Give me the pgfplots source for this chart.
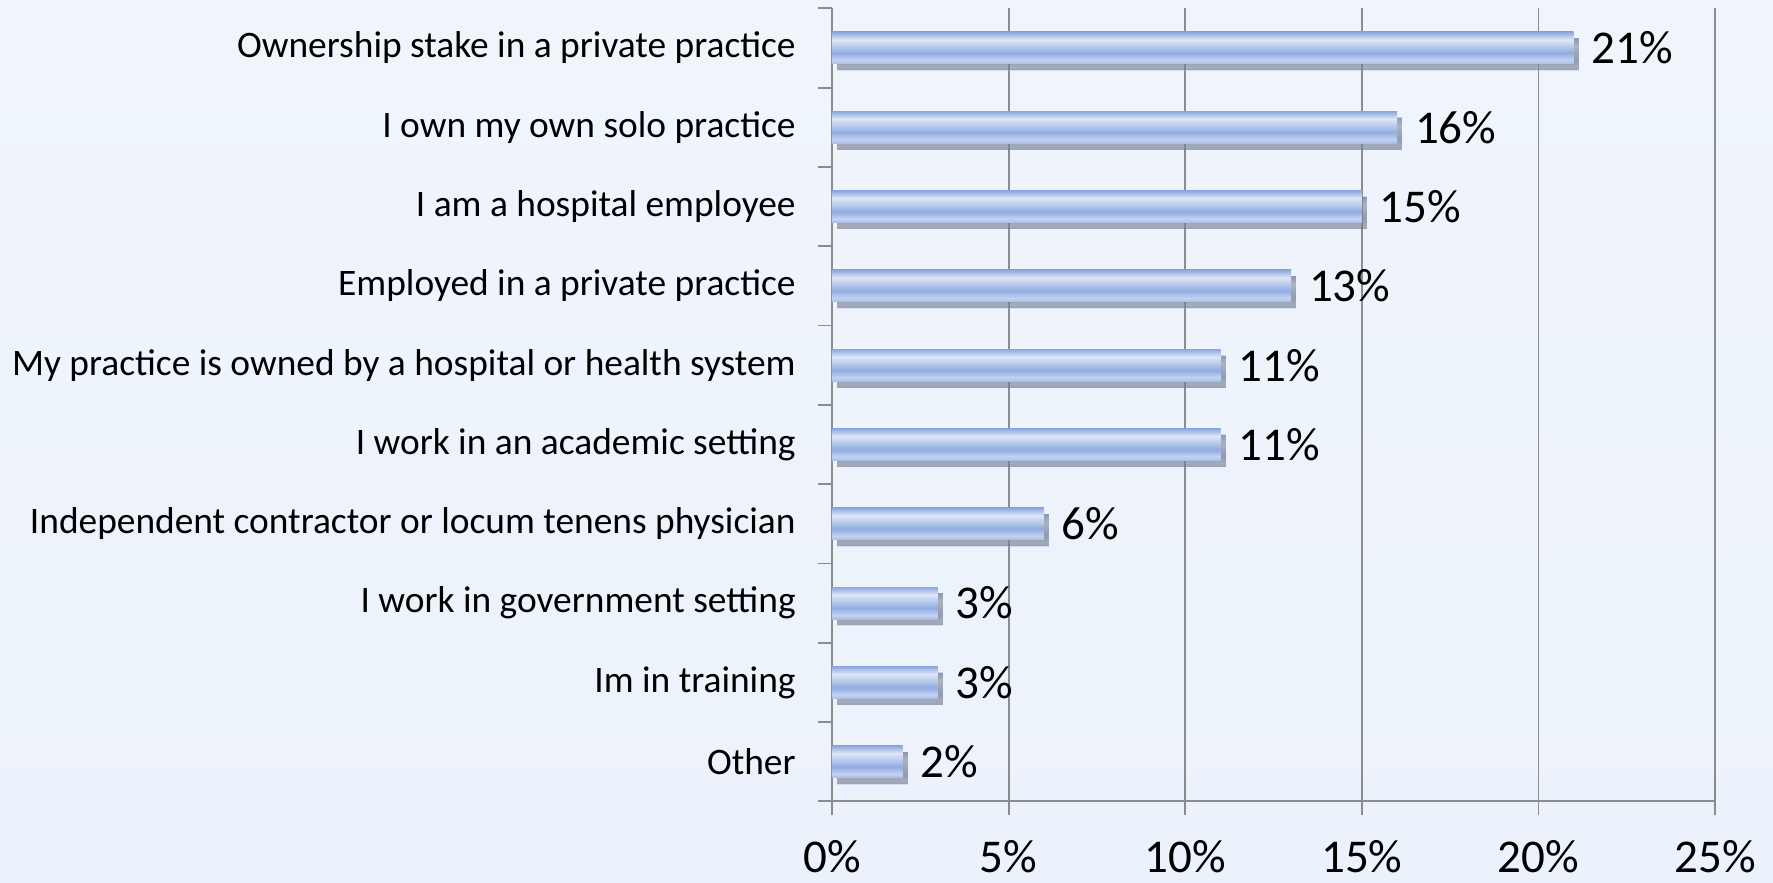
\documentclass[border=0pt]{standalone}
\usepackage{pgfplots}
\pgfplotsset{compat=1.18}
\usepackage{fontspec}
\setmainfont{Carlito}
\usetikzlibrary{shadows}
\definecolor{gridgray}{RGB}{140,140,140}
\definecolor{btop}{RGB}{140,166,222}
\definecolor{blight}{RGB}{222,230,246}
\definecolor{bmid}{RGB}{145,172,226}
\definecolor{blight2}{RGB}{196,210,240}
\definecolor{bbot}{RGB}{168,189,232}
\definecolor{bgtop}{RGB}{240,245,252}
\definecolor{bgbot}{RGB}{236,242,251}
\pgfdeclareverticalshading{barshade}{100bp}{color(0bp)=(bbot); color(25bp)=(bbot); color(31bp)=(blight2); color(42bp)=(bmid); color(63bp)=(blight); color(75bp)=(btop); color(100bp)=(btop)}
\pgfplotsset{mybar/.style={xbar, bar width=8pt, bar shift=0pt, draw=none, shading=barshade,
  drop shadow={shadow xshift=1.25pt, shadow yshift=-1.6pt, fill=black, opacity=0.4}}}
\begin{document}
\begin{tikzpicture}
\path[use as bounding box, top color=bgtop, middle color=white, bottom color=bgbot] (-208pt,-20.33pt) rectangle (235.25pt,200.33pt);
\begin{axis}[
  at={(0,0)}, anchor=south west,
  scale only axis, width=220.75pt, height=198.25pt,
  xmin=0, xmax=25, ymin=-0.5, ymax=9.5,
  axis x line=bottom, axis y line=left,
  axis line style={-, draw=gridgray, line width=0.45pt},
  tick align=outside, major tick length=3.5pt,
  tick style={gridgray, line width=0.45pt},
  /pgf/number format/assume math mode=true,
  xtick={0,5,...,25}, xticklabels={0\%,5\%,10\%,15\%,20\%,25\%},
  xmajorgrids, grid style={gridgray, line width=0.45pt},
  ytick={-0.5,0.5,...,9.5},
  yticklabels={Other, Im in training, I work in government setting, Independent contractor or locum tenens physician, I work in an academic setting, My practice is owned by a hospital or health system, Employed in a private practice, I am a hospital employee, I own my own solo practice, Ownership stake in a private practice\hspace{1.75pt}, {}},
  yticklabel style={yshift=9.9125pt, xshift=-5.4pt, inner sep=0pt, font=\fontsize{9.35}{11}\selectfont, text=black},
  xticklabel style={inner sep=0pt, yshift=-6.1pt, font=\fontsize{11.75}{14}\selectfont, text=black},
  clip=false,
]
\addplot[mybar] coordinates {(2,0)};
\addplot[mybar] coordinates {(3,1)};
\addplot[mybar] coordinates {(3,2)};
\addplot[mybar] coordinates {(6,3)};
\addplot[mybar] coordinates {(11,4)};
\addplot[mybar] coordinates {(11,5)};
\addplot[mybar] coordinates {(13,6)};
\addplot[mybar] coordinates {(15,7)};
\addplot[mybar] coordinates {(16,8)};
\addplot[mybar] coordinates {(21,9)};
\addplot[draw=none, mark=none, point meta=x,
  nodes near coords={\pgfmathprintnumber{\pgfplotspointmeta}\%},
  every node near coord/.style={anchor=west, inner sep=0pt, xshift=4.3pt, font=\fontsize{11.75}{14}\selectfont, text=black}]
  coordinates {(2,0) (3,1) (3,2) (6,3) (11,4) (11,5) (13,6) (15,7) (16,8) (21,9)};
\end{axis}
\end{tikzpicture}
\end{document}
